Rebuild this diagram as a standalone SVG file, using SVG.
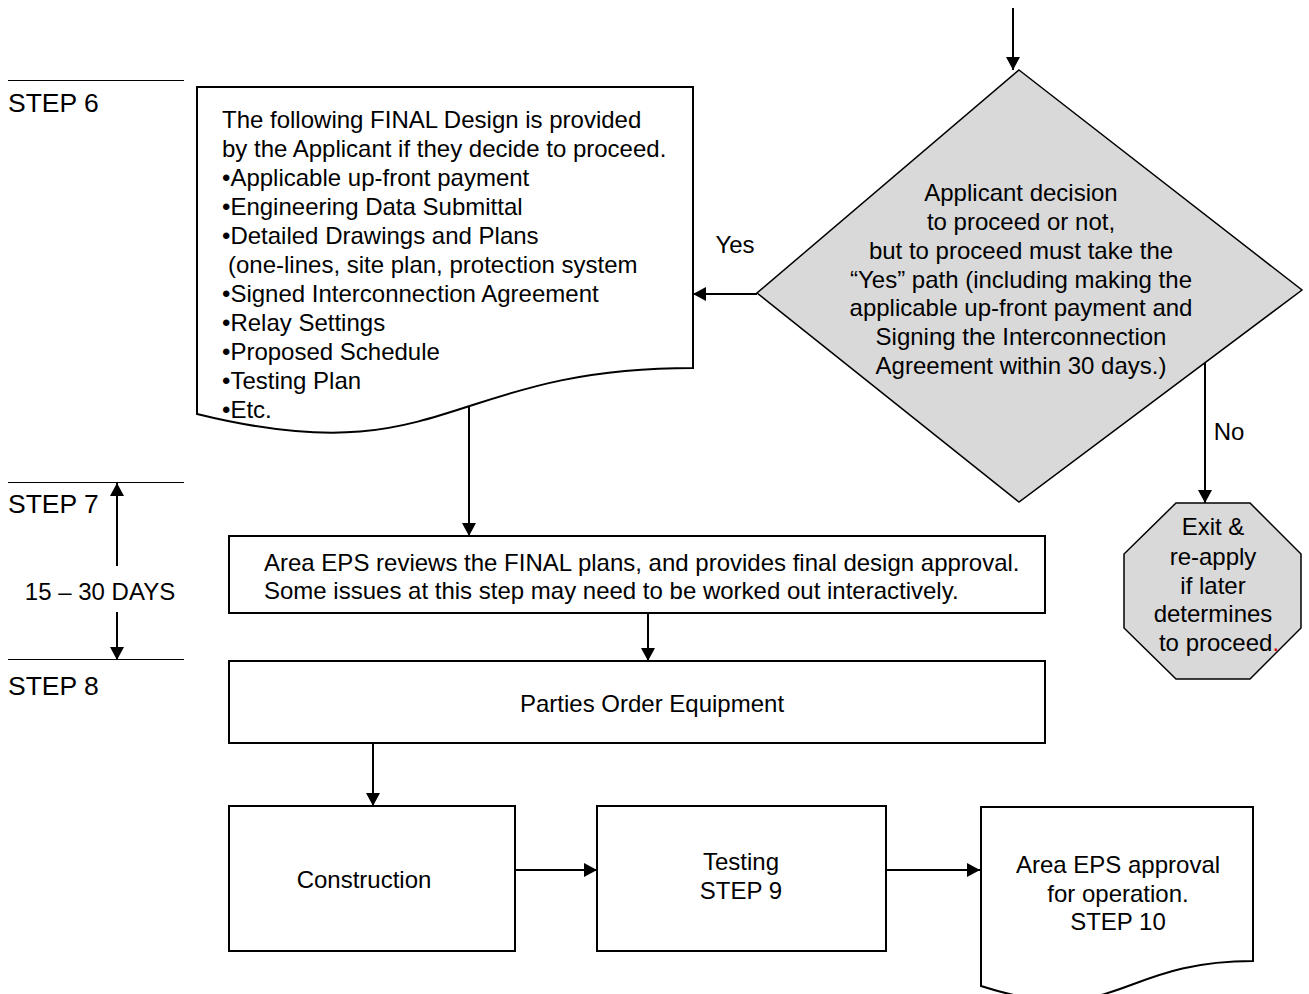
<svg xmlns="http://www.w3.org/2000/svg" width="1309" height="994" viewBox="0 0 1309 994">
<defs>
<style>
text{font-family:"Liberation Sans",Arial,sans-serif;font-size:24px;fill:#000}
.c{text-anchor:middle}
.step{font-size:26.5px}
.box{fill:#fff;stroke:#000;stroke-width:2}
.gray{fill:#d9d9d9;stroke:#000;stroke-width:1.5}
.ln{fill:none;stroke:#000;stroke-width:2}
.rule{stroke:#000;stroke-width:1}
</style>
<marker id="ah" markerUnits="userSpaceOnUse" markerWidth="14" markerHeight="14" refX="13" refY="7" orient="auto">
<path d="M0,0 L13,7 L0,14 Z" fill="#000"/>
</marker>
</defs>
<rect width="1309" height="994" fill="#fff"/>

<g id="step-labels">
<line class="rule" x1="8" y1="80.5" x2="184" y2="80.5"/>
<text class="step" x="8" y="112">STEP 6</text>
<line class="rule" x1="8" y1="482.5" x2="184" y2="482.5"/>
<text class="step" x="8" y="513">STEP 7</text>
<line class="rule" x1="8" y1="659.5" x2="184" y2="659.5"/>
<text class="step" x="8" y="695">STEP 8</text>
<text class="c" x="100" y="600">15 – 30 DAYS</text>
</g>

<g id="connectors">
<line class="ln" x1="1013" y1="8" x2="1013" y2="70" marker-end="url(#ah)"/>
<line class="ln" x1="757" y1="294" x2="693" y2="294" marker-end="url(#ah)"/>
<line class="ln" x1="1205" y1="360" x2="1205" y2="503" marker-end="url(#ah)"/>
<line class="ln" x1="469" y1="407" x2="469" y2="536" marker-end="url(#ah)"/>
<line class="ln" x1="648" y1="613" x2="648" y2="661" marker-end="url(#ah)"/>
<line class="ln" x1="373" y1="743" x2="373" y2="806" marker-end="url(#ah)"/>
<line class="ln" x1="515" y1="870" x2="597" y2="870" marker-end="url(#ah)"/>
<line class="ln" x1="886" y1="870" x2="980" y2="870" marker-end="url(#ah)"/>
<line class="ln" x1="117" y1="566" x2="117" y2="483" marker-end="url(#ah)"/>
<line class="ln" x1="117" y1="612" x2="117" y2="660" marker-end="url(#ah)"/>
<text class="c" x="735" y="253">Yes</text>
<text class="c" x="1229" y="440">No</text>
</g>

<g id="final-design">
<path class="box" d="M197,87 H693 V368 C445,368 445,475 197,414 Z"/>
<text x="222" y="128">The following FINAL Design is provided</text>
<text x="222" y="157">by the Applicant if they decide to proceed.</text>
<text x="222" y="186">•Applicable up-front payment</text>
<text x="222" y="215">•Engineering Data Submittal</text>
<text x="222" y="244">•Detailed Drawings and Plans</text>
<text x="228" y="273">(one-lines, site plan, protection system</text>
<text x="222" y="302">•Signed Interconnection Agreement</text>
<text x="222" y="331">•Relay Settings</text>
<text x="222" y="360">•Proposed Schedule</text>
<text x="222" y="389">•Testing Plan</text>
<text x="222" y="418">•Etc.</text>
</g>

<g id="decision">
<polygon class="gray" points="1019,70 1302,290 1019,502 757,293"/>
<text class="c" x="1021" y="201">Applicant decision</text>
<text class="c" x="1021" y="230">to proceed or not,</text>
<text class="c" x="1021" y="259">but to proceed must take the</text>
<text class="c" x="1021" y="288">“Yes” path (including making the</text>
<text class="c" x="1021" y="316">applicable up-front payment and</text>
<text class="c" x="1021" y="345">Signing the Interconnection</text>
<text class="c" x="1021" y="374">Agreement within 30 days.)</text>
</g>

<g id="exit">
<polygon class="gray" points="1176,503 1250,503 1301,554 1301,628 1250,679 1176,679 1124,628 1124,554"/>
<text class="c" x="1213" y="535">Exit &amp;</text>
<text class="c" x="1213" y="565">re-apply</text>
<text class="c" x="1213" y="594">if later</text>
<text class="c" x="1213" y="622">determines</text>
<text class="c" x="1219" y="651">to proceed<tspan fill="#e00000">.</tspan></text>
</g>

<g id="review">
<rect class="box" x="229" y="536" width="816" height="77"/>
<text x="264" y="571">Area EPS reviews the FINAL plans, and provides final design approval.</text>
<text x="264" y="599">Some issues at this step may need to be worked out interactively.</text>
</g>

<g id="order">
<rect class="box" x="229" y="661" width="816" height="82"/>
<text class="c" x="652" y="712">Parties Order Equipment</text>
</g>

<g id="construction">
<rect class="box" x="229" y="806" width="286" height="145"/>
<text class="c" x="364" y="888">Construction</text>
</g>

<g id="testing">
<rect class="box" x="597" y="806" width="289" height="145"/>
<text class="c" x="741" y="870">Testing</text>
<text class="c" x="741" y="899">STEP 9</text>
</g>

<g id="approval">
<path class="box" d="M981,807 H1253 V961 C1117,961 1117,1030 981,986 Z"/>
<text class="c" x="1118" y="873">Area EPS approval</text>
<text class="c" x="1118" y="902">for operation.</text>
<text class="c" x="1118" y="930">STEP 10</text>
</g>
</svg>
